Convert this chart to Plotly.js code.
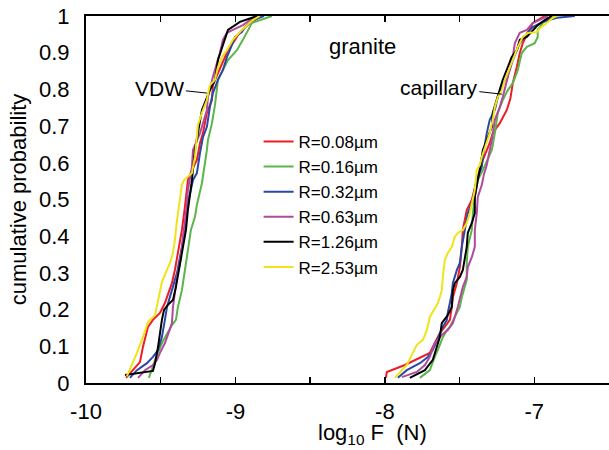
<!DOCTYPE html>
<html>
<head>
<meta charset="utf-8">
<script src="https://cdn.plot.ly/plotly-3.0.1.min.js"></script>
<style>html,body{margin:0;padding:0;background:#fff;}</style>
</head>
<body>
<div id="chart" style="width:609px;height:450px;"></div>
<script>
// ---- Data ----
const seriesNames = ["R=0.08\u00b5m","R=0.16\u00b5m","R=0.32\u00b5m","R=0.63\u00b5m","R=1.26\u00b5m","R=2.53\u00b5m"];

// VDW group
const vdw_R008_x = [-9.732,-9.639,-9.619,-9.585,-9.552,-9.505,-9.472,-9.425,-9.405,-9.385,-9.358,-9.338,-9.318,-9.291,-9.258,-9.237,-9.217,-9.191,-9.157,-9.151,-9.117,-9.084,-9.050,-9.003,-8.970,-8.903,-8.823];
const vdw_R008_y = [0.014,0.057,0.098,0.153,0.172,0.191,0.218,0.272,0.308,0.354,0.417,0.480,0.553,0.580,0.608,0.654,0.681,0.736,0.771,0.812,0.845,0.872,0.907,0.935,0.956,0.981,1.0];

const vdw_R016_x = [-9.579,-9.538,-9.492,-9.458,-9.425,-9.398,-9.385,-9.358,-9.338,-9.324,-9.304,-9.298,-9.271,-9.258,-9.224,-9.204,-9.191,-9.184,-9.157,-9.137,-9.117,-9.050,-8.990,-8.950,-8.923,-8.890,-8.756];
const vdw_R016_y = [0.014,0.063,0.109,0.136,0.158,0.172,0.207,0.253,0.308,0.335,0.390,0.417,0.452,0.485,0.545,0.594,0.635,0.662,0.708,0.757,0.826,0.880,0.907,0.935,0.954,0.981,1.0];

const vdw_R032_x = [-9.706,-9.659,-9.592,-9.552,-9.518,-9.492,-9.472,-9.458,-9.425,-9.391,-9.358,-9.338,-9.318,-9.284,-9.258,-9.237,-9.217,-9.191,-9.171,-9.151,-9.117,-9.084,-9.057,-9.023,-9.003,-8.957,-8.936,-8.883,-8.809];
const vdw_R032_y = [0.014,0.035,0.054,0.071,0.090,0.125,0.172,0.207,0.253,0.300,0.371,0.425,0.490,0.553,0.572,0.627,0.670,0.698,0.752,0.790,0.826,0.853,0.888,0.921,0.943,0.956,0.970,0.989,1.0];

const vdw_R063_x = [-9.652,-9.605,-9.552,-9.525,-9.505,-9.472,-9.452,-9.425,-9.418,-9.405,-9.391,-9.371,-9.351,-9.331,-9.318,-9.291,-9.284,-9.237,-9.191,-9.184,-9.151,-9.124,-9.104,-9.084,-9.057,-9.017,-8.950,-8.903,-8.849];
const vdw_R063_y = [0.014,0.035,0.049,0.063,0.082,0.109,0.131,0.163,0.207,0.253,0.289,0.327,0.390,0.463,0.526,0.589,0.635,0.681,0.744,0.779,0.834,0.872,0.899,0.935,0.954,0.962,0.975,0.989,1.0];

const vdw_R126_x = [-9.739,-9.552,-9.538,-9.518,-9.492,-9.478,-9.452,-9.418,-9.398,-9.378,-9.351,-9.331,-9.318,-9.291,-9.271,-9.224,-9.171,-9.137,-9.117,-9.070,-9.050,-8.970,-8.856];
const vdw_R126_y = [0.022,0.033,0.054,0.098,0.172,0.199,0.213,0.226,0.262,0.308,0.371,0.417,0.471,0.553,0.635,0.744,0.798,0.826,0.880,0.935,0.962,0.984,1.0];

const vdw_R253_x = [-9.726,-9.692,-9.659,-9.619,-9.585,-9.538,-9.492,-9.458,-9.438,-9.418,-9.405,-9.391,-9.371,-9.358,-9.344,-9.291,-9.271,-9.251,-9.224,-9.191,-9.171,-9.137,-9.117,-9.090,-9.057,-9.017,-8.957,-8.923,-8.883,-8.836];
const vdw_R253_y = [0.019,0.049,0.082,0.125,0.166,0.185,0.275,0.308,0.327,0.354,0.390,0.444,0.499,0.540,0.553,0.572,0.616,0.703,0.736,0.771,0.812,0.826,0.861,0.888,0.907,0.935,0.962,0.975,0.989,1.0];

// capillary group
const cap_R008_x = [-7.993,-7.987,-7.866,-7.699,-7.666,-7.632,-7.599,-7.565,-7.552,-7.545,-7.518,-7.498,-7.485,-7.478,-7.452,-7.418,-7.385,-7.365,-7.344,-7.298,-7.278,-7.231,-7.184,-7.160,-7.144,-7.117,-7.097,-7.077,-7.043,-7.010,-6.930];
const cap_R008_y = [0.014,0.030,0.049,0.082,0.109,0.136,0.153,0.172,0.207,0.234,0.272,0.316,0.371,0.417,0.471,0.499,0.553,0.580,0.608,0.654,0.681,0.708,0.744,0.775,0.817,0.861,0.899,0.926,0.954,0.981,1.0];

const cap_R016_x = [-7.766,-7.699,-7.666,-7.645,-7.612,-7.585,-7.565,-7.532,-7.498,-7.485,-7.465,-7.452,-7.452,-7.445,-7.418,-7.411,-7.398,-7.378,-7.344,-7.311,-7.284,-7.264,-7.244,-7.211,-7.177,-7.144,-7.110,-7.084,-7.050,-6.997,-6.977,-6.977,-6.943,-6.863];
const cap_R016_y = [0.014,0.035,0.071,0.090,0.125,0.144,0.153,0.180,0.207,0.234,0.262,0.281,0.327,0.371,0.417,0.463,0.507,0.553,0.580,0.608,0.635,0.681,0.736,0.771,0.798,0.817,0.853,0.899,0.916,0.926,0.943,0.962,0.981,1.0];

const cap_R032_x = [-7.913,-7.853,-7.766,-7.712,-7.679,-7.652,-7.632,-7.612,-7.585,-7.579,-7.565,-7.552,-7.545,-7.518,-7.498,-7.485,-7.465,-7.445,-7.418,-7.398,-7.385,-7.351,-7.344,-7.318,-7.298,-7.264,-7.244,-7.217,-7.197,-7.164,-7.144,-7.117,-7.097,-7.064,-7.043,-7.010,-6.943,-6.849,-6.729];
const cap_R032_y = [0.014,0.035,0.054,0.071,0.090,0.117,0.136,0.153,0.172,0.191,0.218,0.245,0.272,0.308,0.327,0.371,0.417,0.463,0.490,0.526,0.553,0.589,0.616,0.681,0.717,0.744,0.779,0.807,0.826,0.853,0.880,0.907,0.926,0.943,0.956,0.970,0.984,0.995,1.0];

const cap_R063_x = [-7.886,-7.786,-7.732,-7.699,-7.666,-7.619,-7.579,-7.545,-7.512,-7.478,-7.452,-7.445,-7.418,-7.398,-7.398,-7.385,-7.378,-7.351,-7.338,-7.318,-7.298,-7.284,-7.264,-7.231,-7.211,-7.184,-7.164,-7.144,-7.130,-7.097,-7.050,-7.010,-6.910];
const cap_R063_y = [0.016,0.030,0.049,0.071,0.109,0.131,0.144,0.163,0.207,0.262,0.289,0.316,0.343,0.371,0.417,0.463,0.507,0.540,0.567,0.594,0.635,0.662,0.717,0.752,0.779,0.826,0.861,0.888,0.926,0.954,0.962,0.981,1.0];

const cap_R126_x = [-7.833,-7.732,-7.679,-7.652,-7.632,-7.619,-7.579,-7.552,-7.545,-7.532,-7.498,-7.478,-7.465,-7.452,-7.445,-7.418,-7.398,-7.398,-7.378,-7.365,-7.344,-7.318,-7.284,-7.278,-7.251,-7.231,-7.211,-7.177,-7.151,-7.117,-7.097,-7.050,-7.010,-6.977,-6.930,-6.883];
const cap_R126_y = [0.014,0.035,0.063,0.098,0.125,0.163,0.185,0.207,0.253,0.272,0.289,0.308,0.335,0.371,0.409,0.436,0.463,0.507,0.553,0.580,0.635,0.662,0.698,0.736,0.771,0.798,0.826,0.861,0.888,0.907,0.935,0.943,0.962,0.975,0.989,1.0];

const cap_R253_x = [-7.933,-7.853,-7.813,-7.786,-7.746,-7.719,-7.699,-7.645,-7.632,-7.619,-7.612,-7.599,-7.579,-7.552,-7.532,-7.512,-7.478,-7.452,-7.431,-7.411,-7.398,-7.385,-7.365,-7.351,-7.331,-7.298,-7.278,-7.264,-7.244,-7.217,-7.197,-7.164,-7.144,-7.110,-7.077,-7.043,-6.983,-6.963,-6.916,-6.876,-6.849];
const cap_R253_y = [0.014,0.049,0.082,0.104,0.117,0.144,0.180,0.218,0.234,0.253,0.289,0.335,0.354,0.371,0.398,0.409,0.417,0.436,0.463,0.499,0.526,0.580,0.594,0.616,0.643,0.681,0.717,0.752,0.779,0.798,0.826,0.861,0.880,0.916,0.943,0.954,0.956,0.967,0.981,0.995,1.0];

const xTickVals = [-10,-9,-8,-7];
const xTickText = ["-10","-9","-8","-7"];
const yTickVals = [0,0.1,0.2,0.3,0.4,0.5,0.6,0.7,0.8,0.9,1];
const yTickText = ["0","0.1","0.2","0.3","0.4","0.5","0.6","0.7","0.8","0.9","1"];

const colors = ["#ee1c25","#5ab54a","#2b48a6","#b04a9c","#000000","#f0e31a"];

// ---- Build traces ----
const vdwX = [vdw_R008_x, vdw_R016_x, vdw_R032_x, vdw_R063_x, vdw_R126_x, vdw_R253_x];
const vdwY = [vdw_R008_y, vdw_R016_y, vdw_R032_y, vdw_R063_y, vdw_R126_y, vdw_R253_y];
const capX = [cap_R008_x, cap_R016_x, cap_R032_x, cap_R063_x, cap_R126_x, cap_R253_x];
const capY = [cap_R008_y, cap_R016_y, cap_R032_y, cap_R063_y, cap_R126_y, cap_R253_y];

const FONT = "Liberation Sans, Arial, Helvetica, sans-serif";

const traces = seriesNames.map((name, i) => ({
  type: "scatter",
  mode: "lines",
  name: name,
  x: vdwX[i].concat([null], capX[i]),
  y: vdwY[i].concat([null], capY[i]),
  connectgaps: false,
  line: {color: colors[i], width: 2}
}));

const layout = {
  width: 609, height: 450,
  margin: {l: 86, r: 0, t: 16, b: 67, pad: 0},
  paper_bgcolor: "#fff", plot_bgcolor: "#fff",
  font: {family: FONT, size: 22, color: "#000"},
  showlegend: true,
  legend: {
    x: 0.33, y: 0.706, xanchor: "left", yanchor: "top",
    bgcolor: "rgba(0,0,0,0)", borderwidth: 0,
    font: {family: FONT, size: 17, color: "#000"},
    tracegroupgap: 0
  },
  xaxis: {
    range: [-10, -6.5],
    tickmode: "array", tickvals: xTickVals, ticktext: xTickText,
    ticks: "inside", ticklen: 6, tickwidth: 1.5, tickcolor: "#000",
    minor: {dtick: 0.5, tick0: -10, ticks: "inside", ticklen: 6, tickwidth: 1.5, tickcolor: "#000", showgrid: false},
    showline: true, linecolor: "#000", linewidth: 2, mirror: "ticks",
    showgrid: false, zeroline: false,
    tickfont: {family: FONT, size: 22},
    ticklabelstandoff: 8
  },
  yaxis: {
    range: [0, 1],
    tickmode: "array", tickvals: yTickVals, ticktext: yTickText,
    ticks: "", showline: true, linecolor: "#000", linewidth: 2,
    showgrid: false, zeroline: false,
    tickfont: {family: FONT, size: 22},
    ticklabelstandoff: 10,
    title: {text: "cumulative probability", font: {family: FONT, size: 22}, standoff: 6}
  },
  annotations: [
    {xref: "paper", yref: "paper", x: 0.547, y: -0.14, yanchor: "middle", xanchor: "center",
     text: "log<sub>10</sub> F\u00a0 (N)", showarrow: false, font: {family: FONT, size: 22}},
    {xref: "x", yref: "y", x: -8.147, y: 0.916, text: "granite", showarrow: false,
     font: {family: FONT, size: 22}},
    {xref: "x", yref: "y", x: -9.191, y: 0.790, ax: -47, ay: -5, text: "VDW",
     showarrow: true, arrowhead: 0, arrowwidth: 1, arrowcolor: "#000",
     font: {family: FONT, size: 21}},
    {xref: "x", yref: "y", x: -7.217, y: 0.787, ax: -63, ay: -7, text: "capillary",
     showarrow: true, arrowhead: 0, arrowwidth: 1, arrowcolor: "#000",
     font: {family: FONT, size: 21}}
  ]
};

Plotly.newPlot("chart", traces, layout, {displayModeBar: false, staticPlot: true});
</script>
</body>
</html>
